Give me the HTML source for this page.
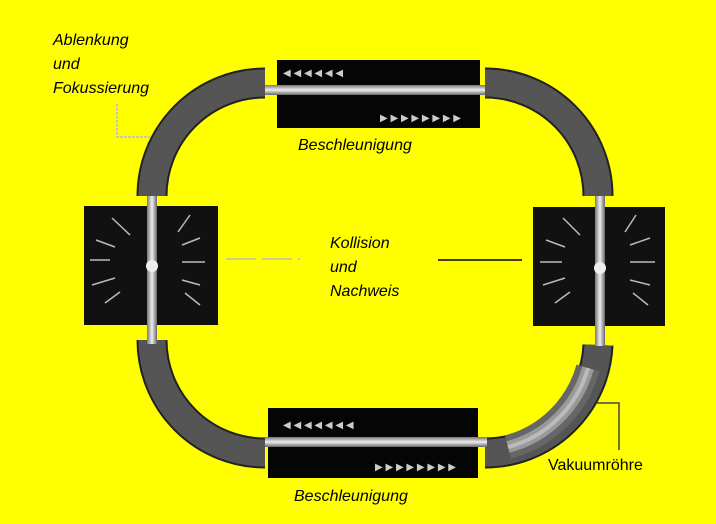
<!DOCTYPE html>
<html><head><style>
html,body{margin:0;padding:0;background:#ffff00;}
svg{display:block}
text{font-family:"Liberation Sans",sans-serif;font-style:italic;font-size:16px;fill:#000}
</style></head><body>
<svg width="716" height="524" viewBox="0 0 716 524">
<rect width="716" height="524" fill="#ffff00"/>
<defs>
<linearGradient id="tb" x1="0" y1="0" x2="0" y2="1">
<stop offset="0" stop-color="#777"/><stop offset="0.5" stop-color="#eee"/><stop offset="1" stop-color="#666"/></linearGradient>
<linearGradient id="tv" x1="0" y1="0" x2="1" y2="0">
<stop offset="0" stop-color="#777"/><stop offset="0.5" stop-color="#eee"/><stop offset="1" stop-color="#666"/></linearGradient>
</defs>
<rect x="277" y="60" width="203" height="68" fill="#050505"/>
<rect x="268" y="408" width="210" height="70" fill="#050505"/>
<rect x="84" y="206" width="134" height="119" fill="#111"/>
<rect x="533" y="207" width="132" height="119" fill="#111"/>
<g>
<text x="283" y="76" style="font-size:10px;fill:#ccc;font-style:normal">◀ ◀ ◀ ◀ ◀ ◀</text>
<text x="380" y="121" style="font-size:10px;fill:#ccc;font-style:normal">▶ ▶ ▶ ▶ ▶ ▶ ▶ ▶</text>
<text x="283" y="428" style="font-size:10px;fill:#ccc;font-style:normal">◀ ◀ ◀ ◀ ◀ ◀ ◀</text>
<text x="375" y="470" style="font-size:10px;fill:#ccc;font-style:normal">▶ ▶ ▶ ▶ ▶ ▶ ▶ ▶</text>
</g>
<g stroke="#bbb" stroke-width="1.5">
<line x1="112" y1="218" x2="130" y2="235"/><line x1="96" y1="240" x2="115" y2="247"/><line x1="90" y1="260" x2="110" y2="260"/><line x1="92" y1="285" x2="115" y2="278"/><line x1="105" y1="303" x2="120" y2="292"/>
<line x1="190" y1="215" x2="178" y2="232"/><line x1="200" y1="238" x2="182" y2="245"/><line x1="205" y1="262" x2="182" y2="262"/><line x1="200" y1="285" x2="182" y2="280"/><line x1="200" y1="305" x2="185" y2="293"/>
<line x1="563" y1="218" x2="580" y2="235"/><line x1="546" y1="240" x2="565" y2="247"/><line x1="540" y1="262" x2="562" y2="262"/><line x1="543" y1="285" x2="565" y2="278"/><line x1="555" y1="303" x2="570" y2="292"/>
<line x1="636" y1="215" x2="625" y2="232"/><line x1="650" y1="238" x2="630" y2="245"/><line x1="655" y1="262" x2="630" y2="262"/><line x1="650" y1="285" x2="630" y2="280"/><line x1="648" y1="305" x2="633" y2="293"/>
</g>
<g fill="none" stroke="#222" stroke-width="31">
<path d="M152 196 A113 113 0 0 1 265 83"/>
<path d="M485 83 A113 113 0 0 1 598 196"/>
<path d="M152 340 A113 113 0 0 0 265 453"/>
<path d="M598 345 A113 113 0 0 1 485 453"/>
</g>
<g fill="none" stroke="#555" stroke-width="27">
<path d="M152 196 A113 113 0 0 1 265 83"/>
<path d="M485 83 A113 113 0 0 1 598 196"/>
<path d="M152 340 A113 113 0 0 0 265 453"/>
<path d="M598 345 A113 113 0 0 1 485 453"/>
</g>
<path d="M588 368 A113 113 0 0 1 508 447" fill="none" stroke="#666" stroke-width="24"/>
<path d="M588 368 A113 113 0 0 1 508 447" fill="none" stroke="#999" stroke-width="12"/>
<path d="M588 368 A113 113 0 0 1 508 447" fill="none" stroke="#bbb" stroke-width="4"/>
<rect x="265" y="85" width="220" height="10" fill="url(#tb)"/>
<rect x="265" y="437" width="222" height="10" fill="url(#tb)"/>
<rect x="147" y="196" width="10" height="148" fill="url(#tv)"/>
<rect x="595" y="196" width="10" height="150" fill="url(#tv)"/>
<circle cx="152" cy="266" r="6" fill="#eee"/>
<circle cx="600" cy="268" r="6" fill="#eee"/>
<polyline points="117,104 117,137 150,137" fill="none" stroke="#bbb" stroke-width="1.5" stroke-dasharray="3,1"/>
<line x1="226" y1="259" x2="300" y2="259" stroke="#bbb" stroke-width="1.5" stroke-dasharray="30,6"/>
<line x1="438" y1="260" x2="522" y2="260" stroke="#000" stroke-width="1.5"/>
<polyline points="596,403 619,403 619,450" fill="none" stroke="#444" stroke-width="1.5"/>
<text x="53" y="45">Ablenkung</text>
<text x="53" y="69">und</text>
<text x="53" y="93">Fokussierung</text>
<text x="298" y="150">Beschleunigung</text>
<text x="330" y="248">Kollision</text>
<text x="330" y="272">und</text>
<text x="330" y="296">Nachweis</text>
<text x="548" y="470" style="font-style:normal">Vakuumröhre</text>
<text x="294" y="501">Beschleunigung</text>
</svg>
</body></html>
